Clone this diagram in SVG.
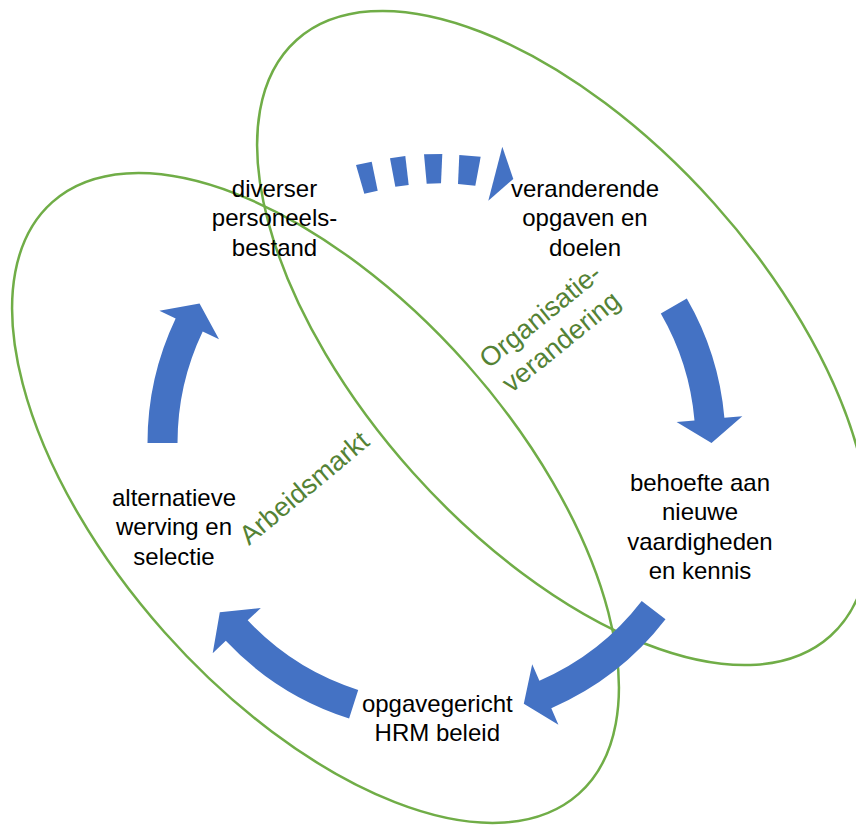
<svg xmlns="http://www.w3.org/2000/svg" width="856" height="825" viewBox="0 0 856 825">
<style>
.ell{fill:none;stroke:#70AD47;stroke-width:2.5}
.lbl{font-family:"Liberation Sans",Arial,sans-serif;font-size:24px;fill:#000;text-anchor:middle}
.grp{font-family:"Liberation Sans",Arial,sans-serif;font-size:27px;fill:#548235;text-anchor:middle}
.arr{fill:#4472C4}
</style>
<rect width="856" height="825" fill="#fff"/>
<g id="arbeidsmarkt">
<ellipse class="ell" cx="315.5" cy="498" rx="396" ry="202" transform="rotate(48.35 315.5 498)"/>
<text class="grp" x="310" y="495" transform="rotate(-40 310 495)">Arbeidsmarkt</text>
</g>
<g id="organisatieverandering">
<ellipse class="ell" cx="563.5" cy="338" rx="400" ry="202" transform="rotate(48.15 563.5 338)"/>
<text class="grp" transform="rotate(-39 546 323)"><tspan x="546" y="323">Organisatie-</tspan><tspan x="546" y="356">verandering</tspan></text>
</g>
<g id="connectors">
<polygon class="arr" points="356,165 371.7,161.7 377.7,190.7 364.3,193.7"/>
<polygon class="arr" points="390,158.3 405.3,156 408.7,185 395.3,186.7"/>
<polygon class="arr" points="424,154.3 442.3,154 441,183.3 426.7,183.7"/>
<polygon class="arr" points="459.3,155 480.7,156.7 475.3,185.7 458,184"/>
<polygon class="arr" points="502.3,146.7 513.3,179 488.3,200.7"/>
<path class="arr" d="M660.8,313.5 L686.8,298.5 A289 289 0 0 1 724.4,417.8 L742.3,416.2 L711.5,443 L676.6,422 L694.5,420.4 A259 259 0 0 0 660.8,313.5 Z"/>
<path class="arr" d="M641.7,601 L665.5,619.3 A289 289 0 0 1 551.3,708.2 L558.4,724.75 L523.8,703.8 L532.2,664.2 L539.4,680.7 A259 259 0 0 0 641.7,601 Z"/>
<path class="arr" d="M358.2,689.9 L349.1,718.5 A289 289 0 0 1 225.8,640.8 L212.7,653.2 L219.8,612.3 L260.8,608 L247.7,620.3 A259 259 0 0 0 358.2,689.9 Z"/>
<path class="arr" d="M177.5,443 L147.5,443 A289 289 0 0 1 175.65,318.6 L159.4,310.8 L199.55,303.4 L219,339.25 L202.7,331.5 A259 259 0 0 0 177.5,443 Z"/>
</g>
<g id="node-diverser">
<text class="lbl"><tspan x="274.5" y="196.5">diverser</tspan><tspan x="274.5" y="226">personeels-</tspan><tspan x="274.5" y="255.5">bestand</tspan></text>
</g>
<g id="node-veranderende">
<text class="lbl"><tspan x="585" y="196.5">veranderende</tspan><tspan x="585" y="226">opgaven en</tspan><tspan x="585" y="255.5">doelen</tspan></text>
</g>
<g id="node-behoefte">
<text class="lbl"><tspan x="700" y="490.5">behoefte aan</tspan><tspan x="700" y="520">nieuwe</tspan><tspan x="700" y="549.5">vaardigheden</tspan><tspan x="700" y="579">en kennis</tspan></text>
</g>
<g id="node-opgavegericht">
<text class="lbl"><tspan x="437.3" y="711.5">opgavegericht</tspan><tspan x="437.3" y="741">HRM beleid</tspan></text>
</g>
<g id="node-alternatieve">
<text class="lbl"><tspan x="174" y="506">alternatieve</tspan><tspan x="174" y="535.3">werving en</tspan><tspan x="174" y="564.6">selectie</tspan></text>
</g>
</svg>
